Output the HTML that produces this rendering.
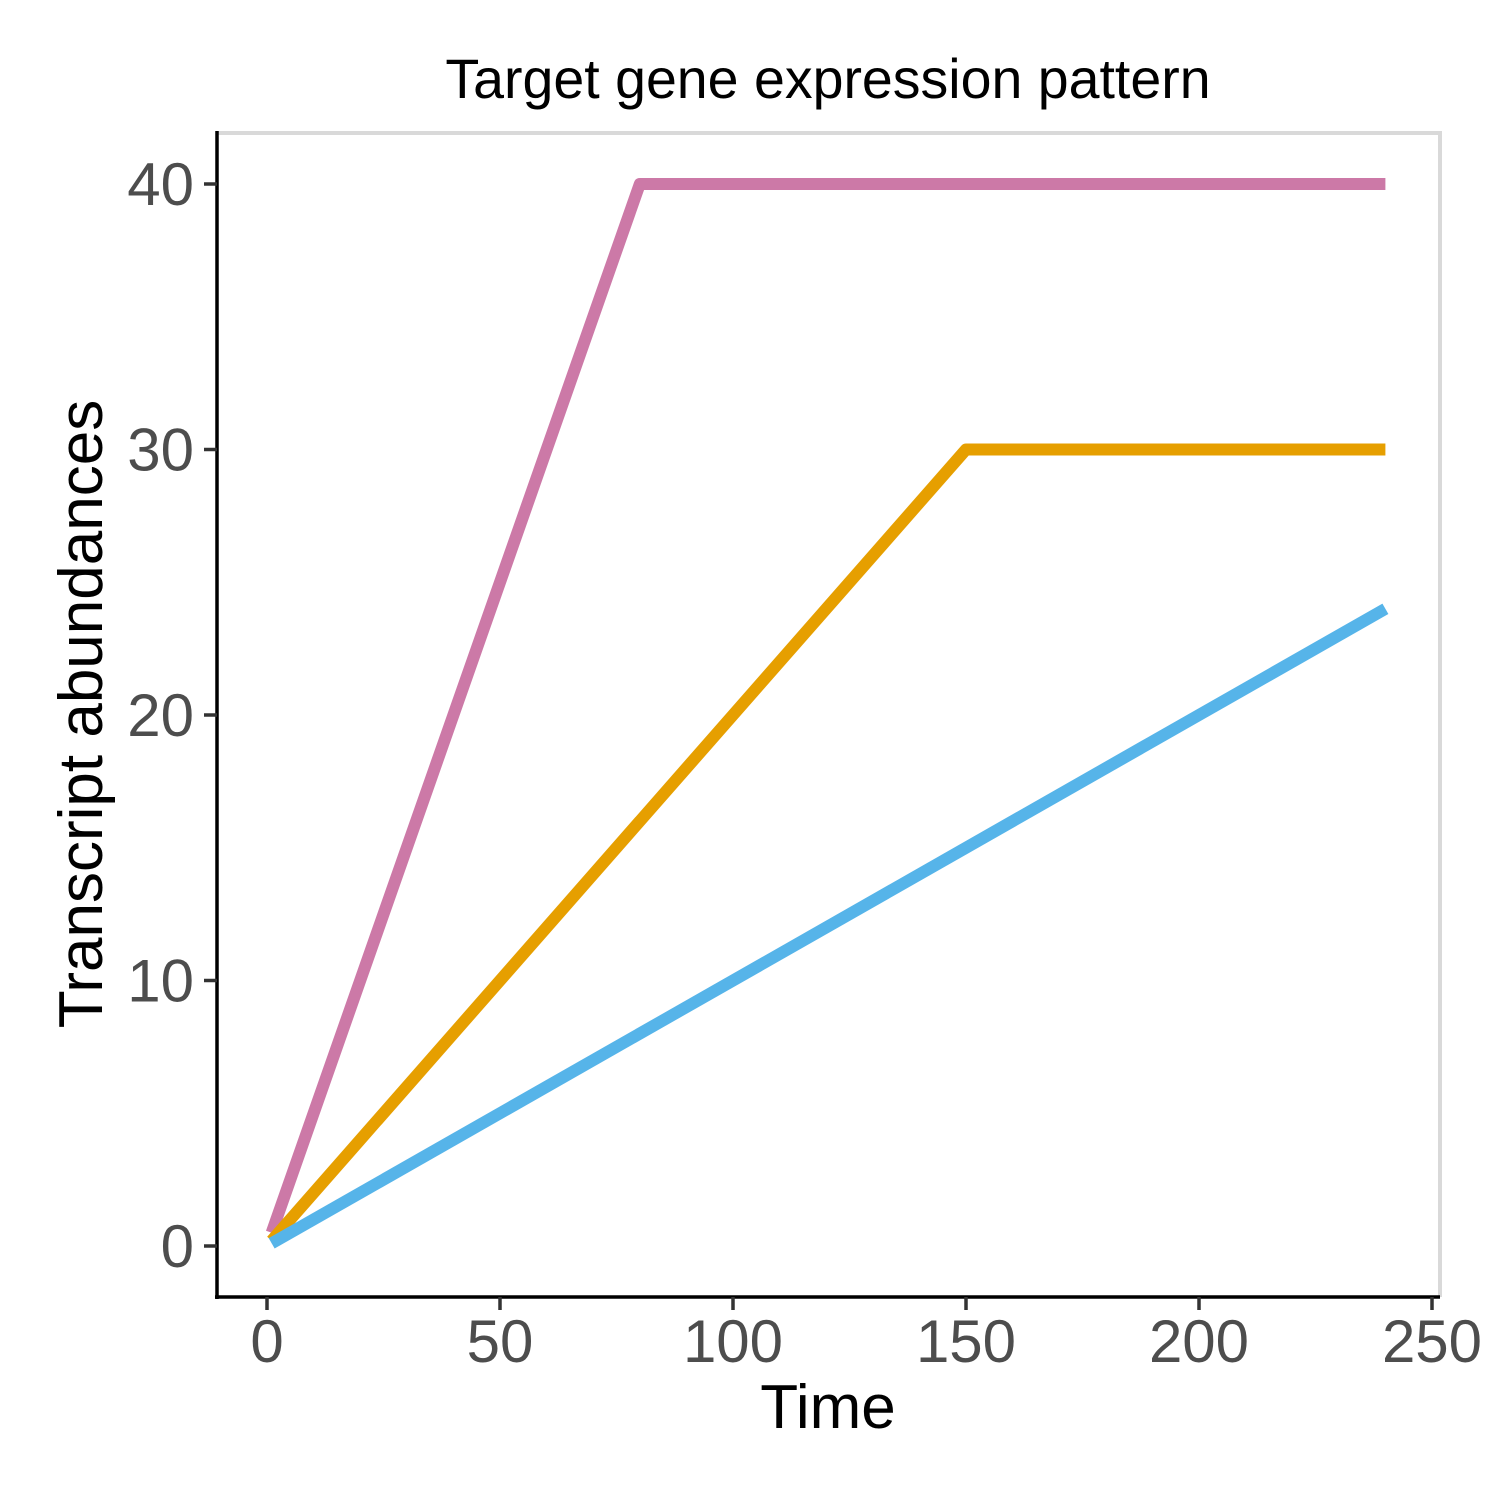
<!DOCTYPE html>
<html><head><meta charset="utf-8"><style>
html,body{margin:0;padding:0;background:#fff;}
svg{display:block;font-family:"Liberation Sans",Arial,sans-serif;}
</style></head><body>
<svg id="chart" width="1500" height="1500" viewBox="0 0 1500 1500" xmlns="http://www.w3.org/2000/svg">
<rect width="1500" height="1500" fill="#fff"/>
<text x="828" y="98" font-size="55.5" text-anchor="middle" fill="#000">Target gene expression pattern</text>
<polyline points="217,133 1440,133 1440,1297" fill="none" stroke="#d9d9d9" stroke-width="4"/>
<g id="series"></g>
<line x1="217" y1="131" x2="217" y2="1299" stroke="#000" stroke-width="3.5"/>
<line x1="215" y1="1297" x2="1440" y2="1297" stroke="#000" stroke-width="3.5"/>
<g id="xticks"></g><g id="yticks"></g>
<text x="828" y="1428" font-size="62" text-anchor="middle" fill="#000">Time</text>
<text transform="translate(102,714) rotate(-90)" font-size="62" text-anchor="middle" fill="#000">Transcript abundances</text>
</svg>
<script>
const xTicks = [0, 50, 100, 150, 200, 250];
const yTicks = [0, 10, 20, 30, 40];
const seriesNames = ['pink-series', 'orange-series', 'blue-series'];
const seriesColors = ['#CC79A7', '#E69F00', '#56B4E9'];
const pinkX = [1, 80, 240];
const pinkY = [0.5, 40, 40];
const orangeX = [1, 150, 240];
const orangeY = [0.2, 30, 30];
const blueX = [1, 240];
const blueY = [0.1, 24];

const NS = 'http://www.w3.org/2000/svg';
function xs(v){ return 267 + v * (1432 - 267) / 250; }
function ys(v){ return 1246 - v * (1246 - 184) / 40; }

const xg = document.getElementById('xticks');
xTicks.forEach(t => {
  const l = document.createElementNS(NS, 'line');
  l.setAttribute('x1', xs(t)); l.setAttribute('x2', xs(t));
  l.setAttribute('y1', 1297); l.setAttribute('y2', 1310);
  l.setAttribute('stroke', '#333'); l.setAttribute('stroke-width', 3.5);
  
  
  xg.appendChild(l);
  const tx = document.createElementNS(NS, 'text');
  tx.setAttribute('x', xs(t)); tx.setAttribute('y', 1362);
  tx.setAttribute('font-size', 60); tx.setAttribute('fill', '#4d4d4d');
  tx.setAttribute('text-anchor', 'middle');
  
  
  tx.textContent = t;
  xg.appendChild(tx);
});
const yg = document.getElementById('yticks');
yTicks.forEach(t => {
  const l = document.createElementNS(NS, 'line');
  l.setAttribute('x1', 204); l.setAttribute('x2', 217);
  l.setAttribute('y1', ys(t)); l.setAttribute('y2', ys(t));
  l.setAttribute('stroke', '#333'); l.setAttribute('stroke-width', 3.5);
  
  
  yg.appendChild(l);
  const tx = document.createElementNS(NS, 'text');
  tx.setAttribute('x', 194); tx.setAttribute('y', ys(t) + 21);
  tx.setAttribute('font-size', 60); tx.setAttribute('fill', '#4d4d4d');
  tx.setAttribute('text-anchor', 'end');
  
  
  tx.textContent = t;
  yg.appendChild(tx);
});
const sg = document.getElementById('series');
[[pinkX, pinkY], [orangeX, orangeY], [blueX, blueY]].forEach((s, i) => {
  const p = document.createElementNS(NS, 'polyline');
  p.setAttribute('points', s[0].map((x, j) => xs(x) + ',' + ys(s[1][j])).join(' '));
  p.setAttribute('fill', 'none');
  p.setAttribute('stroke', seriesColors[i]);
  p.setAttribute('stroke-width', 12);
  p.setAttribute('stroke-linejoin', 'round');
  
  
  sg.appendChild(p);
});
</script>
</body></html>
